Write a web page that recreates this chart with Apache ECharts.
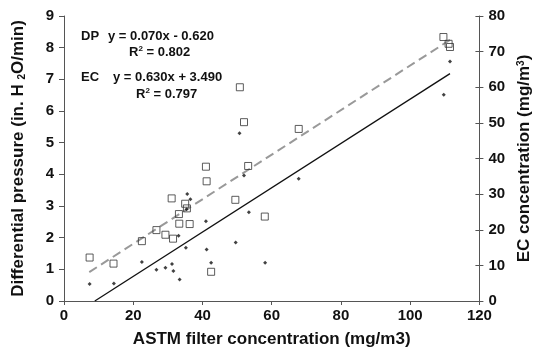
<!DOCTYPE html>
<html>
<head>
<meta charset="utf-8">
<script src="https://cdn.jsdelivr.net/npm/echarts@6/dist/echarts.min.js"></script>
<style>html,body{margin:0;padding:0;background:#fff}#c{width:541px;height:356px}</style>
</head>
<body>
<div id="c"></div>
<script>
// DP data (left axis, small diamonds)
const dpX = [7.4, 14.4, 22.5, 26.7, 29.3, 31.2, 31.6, 33.4, 35.2, 33.1, 41.0, 42.5, 41.2, 49.6, 53.4, 58.1, 35.4, 35.6, 36.5, 50.7, 52.0, 67.8, 111.5, 109.7];
const dpY = [0.54, 0.55, 1.23, 0.99, 1.05, 1.17, 0.95, 0.68, 1.68, 2.06, 2.52, 1.21, 1.63, 1.85, 2.80, 1.21, 2.90, 3.38, 3.21, 5.30, 3.96, 3.86, 7.56, 6.51];
// EC data (right axis, open squares)
const ecX = [7.4, 14.3, 22.5, 26.7, 29.3, 31.5, 31.1, 33.2, 33.3, 36.3, 35.0, 35.5, 41.0, 41.2, 42.5, 49.5, 50.8, 52.0, 53.2, 58.0, 67.8, 109.6, 111.1, 111.5];
const ecY = [12.2, 10.5, 16.8, 19.9, 18.6, 17.5, 28.8, 24.4, 21.7, 21.6, 27.3, 26.0, 37.7, 33.6, 8.2, 28.4, 60.0, 50.2, 37.9, 23.7, 48.3, 74.1, 72.2, 71.3];
// Fitted line endpoints
const dpFitX = [8.9, 111.5];
const dpFitY = [0, 7.18];
const ecFitX = [7.3, 111.5];
const ecFitY = [8.1, 73.3];
// Axis ticks
const xTicks = [0, 120, 20];
const yLeftTicks = [0, 9, 1];
const yRightTicks = [0, 80, 10];

const zip = (a, b) => a.map((v, i) => [v, b[i]]);
const FONT = '"Liberation Sans", Arial, sans-serif';
const lab = {color: '#111', fontWeight: 'bold', fontSize: 15, fontFamily: FONT};
const axisLine = {show: true, lineStyle: {color: '#555', width: 1}};
const nameStyle = {color: '#111', fontWeight: 'bold', fontSize: 17, fontFamily: FONT};

const chart = echarts.init(document.getElementById('c'), null, {renderer: 'canvas'});
chart.setOption({
  animation: false,
  backgroundColor: '#fff',
  grid: {left: 64, right: 59, top: 16, bottom: 55},
  xAxis: {
    type: 'value', min: xTicks[0], max: xTicks[1], interval: xTicks[2],
    axisLine: axisLine, splitLine: {show: false},
    axisTick: {show: true, length: 4, lineStyle: {color: '#555'}},
    axisLabel: Object.assign({margin: 7}, lab),
    name: 'ASTM filter concentration (mg/m3)', nameLocation: 'middle', nameGap: 30,
    nameTextStyle: nameStyle
  },
  yAxis: [{
    type: 'value', min: yLeftTicks[0], max: yLeftTicks[1], interval: yLeftTicks[2], position: 'left',
    axisLine: axisLine, splitLine: {show: false},
    axisTick: {show: true, length: 5, lineStyle: {color: '#555'}},
    axisLabel: Object.assign({margin: 10}, lab),
    name: 'Differential pressure (in. H {sub|2}O/min)', nameLocation: 'middle', nameGap: 37, nameRotate: 90,
    nameTextStyle: Object.assign({
      rich: {sub: {fontSize: 10, fontWeight: 'bold', color: '#111', fontFamily: FONT, verticalAlign: 'bottom', padding: [7, 0, 0, 0]}}}, nameStyle)
  }, {
    type: 'value', min: yRightTicks[0], max: yRightTicks[1], interval: yRightTicks[2], position: 'right',
    axisLine: axisLine, splitLine: {show: false},
    axisTick: {show: true, length: 4, lineStyle: {color: '#555'}},
    axisLabel: Object.assign({margin: 9}, lab),
    name: 'EC concentration (mg/m{sup|3})', nameLocation: 'middle', nameGap: 33, nameRotate: 90,
    nameTextStyle: Object.assign({
      rich: {sup: {fontSize: 10, fontWeight: 'bold', color: '#111', fontFamily: FONT, verticalAlign: 'top', padding: [0, 0, 7, 0]}}}, nameStyle)
  }, {
    type: 'value', min: yRightTicks[0], max: yRightTicks[1], interval: yRightTicks[2], position: 'right',
    axisLine: {show: false}, splitLine: {show: false}, axisLabel: {show: false},
    axisTick: {show: true, inside: true, length: 4, lineStyle: {color: '#555'}}
  }],
  series: [
    {type: 'line', yAxisIndex: 1, data: zip(ecFitX, ecFitY), symbol: 'none', silent: true,
     lineStyle: {color: '#999', width: 2, type: [9, 5]}, z: 1},
    {type: 'line', yAxisIndex: 0, data: zip(dpFitX, dpFitY), symbol: 'none', silent: true,
     lineStyle: {color: '#111', width: 1.3}, z: 1},
    {type: 'scatter', yAxisIndex: 0, data: zip(dpX, dpY), symbol: 'diamond', symbolSize: 4,
     itemStyle: {color: '#111'}, z: 3},
    {type: 'scatter', yAxisIndex: 1, data: zip(ecX, ecY), symbol: 'rect', symbolSize: 7,
     itemStyle: {color: 'rgba(255,255,255,0)', borderColor: '#333', borderWidth: 1}, z: 4}
  ],
  graphic: [
    {type: 'text', left: 81, top: 30, style: {text: 'DP', font: 'bold 13px ' + FONT, fill: '#111'}},
    {type: 'text', left: 108, top: 30, style: {text: 'y = 0.070x - 0.620', font: 'bold 13px ' + FONT, fill: '#111'}},
    {type: 'text', left: 129, top: 45, style: {rich: {b: {font: 'bold 13px ' + FONT, fill: '#111'}, s: {font: 'bold 8px ' + FONT, fill: '#111', verticalAlign: 'top', padding: [0,0,6,0]}},
      text: '{b|R}{s|2}{b| = 0.802}'}},
    {type: 'text', left: 81, top: 71, style: {text: 'EC', font: 'bold 13px ' + FONT, fill: '#111'}},
    {type: 'text', left: 113, top: 71, style: {text: 'y = 0.630x + 3.490', font: 'bold 13px ' + FONT, fill: '#111'}},
    {type: 'text', left: 136, top: 87, style: {rich: {b: {font: 'bold 13px ' + FONT, fill: '#111'}, s: {font: 'bold 8px ' + FONT, fill: '#111', verticalAlign: 'top', padding: [0,0,6,0]}},
      text: '{b|R}{s|2}{b| = 0.797}'}}
  ]
});
</script>
</body>
</html>
